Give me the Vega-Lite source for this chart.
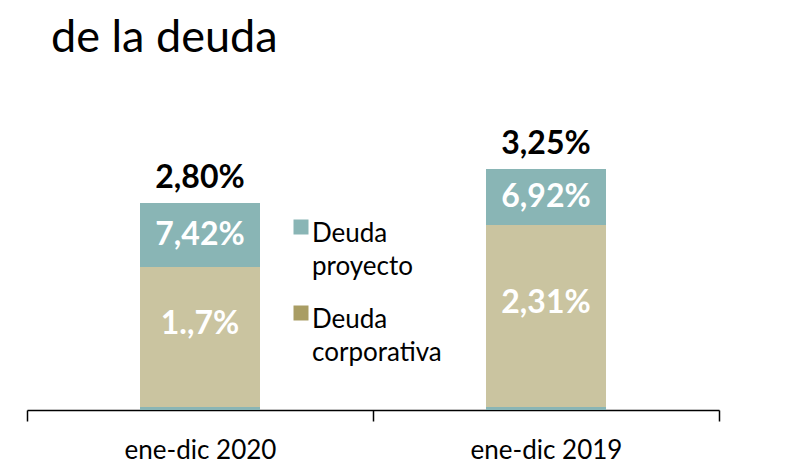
{
  "$schema": "https://vega.github.io/schema/vega-lite/v6.json",
  "width": 692,
  "height": 320,
  "autosize": "none",
  "padding": {"left": 27, "top": 90, "right": 70, "bottom": 56},
  "background": "white",
  "config": {"view": {"stroke": null}, "font": "Lato"},
  "title": {
    "text": "de la deuda",
    "anchor": "start",
    "frame": "group",
    "font": "Lato",
    "fontSize": 45,
    "fontWeight": "normal",
    "color": "#000000",
    "baseline": "alphabetic",
    "offset": 35,
    "dx": 24,
    "dy": 42
  },
  "data": {
    "values": [
      {"period": "ene-dic 2020", "series": "Deuda proyecto", "order": 0, "value": 0.75, "label": "", "total": "2,80%"},
      {"period": "ene-dic 2020", "series": "Deuda corporativa", "order": 1, "value": 35, "label": "1.,7%", "total": "2,80%"},
      {"period": "ene-dic 2020", "series": "Deuda proyecto", "order": 2, "value": 16, "label": "7,42%", "total": "2,80%"},
      {"period": "ene-dic 2019", "series": "Deuda proyecto", "order": 0, "value": 0.75, "label": "", "total": "3,25%"},
      {"period": "ene-dic 2019", "series": "Deuda corporativa", "order": 1, "value": 45.5, "label": "2,31%", "total": "3,25%"},
      {"period": "ene-dic 2019", "series": "Deuda proyecto", "order": 2, "value": 14, "label": "6,92%", "total": "3,25%"}
    ]
  },
  "encoding": {
    "x": {
      "field": "period",
      "type": "nominal",
      "sort": ["ene-dic 2020", "ene-dic 2019"],
      "scale": {"paddingInner": 0, "paddingOuter": 0},
      "axis": {
        "title": null,
        "labelAngle": 0,
        "labelFont": "Lato",
        "labelFontSize": 26,
        "labelColor": "#000000",
        "labelPadding": 16,
        "tickBand": "extent",
        "tickSize": 11,
        "tickWidth": 1.5,
        "tickColor": "#000000",
        "domainColor": "#000000",
        "domainWidth": 1.5,
        "grid": false
      }
    }
  },
  "layer": [
    {
      "mark": {"type": "bar", "width": {"band": 0.3468}},
      "encoding": {
        "y": {"field": "value", "type": "quantitative", "stack": "zero", "scale": {"domain": [0, 80], "nice": false}, "axis": null},
        "order": {"field": "order", "type": "quantitative"},
        "color": {
          "field": "series",
          "type": "nominal",
          "scale": {"domain": ["Deuda proyecto", "Deuda corporativa"], "range": ["#89b5b5", "#cac4a0"]},
          "legend": {
            "title": null,
            "orient": "none",
            "legendX": 261,
            "legendY": 124,
            "direction": "vertical",
            "symbolType": "square",
            "symbolSize": 1,
            "symbolStrokeWidth": 14,
            "labelFont": "Lato",
            "labelFontSize": 26,
            "labelColor": "#000000",
            "labelBaseline": "top",
            "labelOffset": -2,
            "rowPadding": 4,
            "padding": 0,
            "labelLimit": 300,
            "labelExpr": "split(datum.label, ' ')",
            "encode": {
              "labels": {"update": {"lineHeight": {"value": 33}, "dy": {"value": -6}}},
              "symbols": {"update": {"stroke": {"signal": "datum.value === 'Deuda corporativa' ? '#a99d64' : '#89b5b5'"}, "strokeWidth": {"value": 14}, "strokeJoin": {"value": "miter"}, "opacity": {"value": 1}}}
            }
          }
        }
      }
    },
    {
      "mark": {"type": "text", "font": "Lato", "fontSize": 32, "fontWeight": "bold", "color": "white", "baseline": "middle"},
      "encoding": {
        "y": {"field": "value", "type": "quantitative", "stack": "zero", "bandPosition": 0.5},
        "order": {"field": "order", "type": "quantitative"},
        "text": {"condition": {"test": "datum.series === 'Deuda proyecto'", "field": "label"}, "value": ""}
      }
    },
    {
      "mark": {"type": "text", "font": "Lato", "fontSize": 32, "fontWeight": "bold", "color": "white", "baseline": "middle", "dy": -13},
      "encoding": {
        "y": {"field": "value", "type": "quantitative", "stack": "zero", "bandPosition": 0.5},
        "order": {"field": "order", "type": "quantitative"},
        "text": {"condition": {"test": "datum.series === 'Deuda corporativa'", "field": "label"}, "value": ""}
      }
    },
    {
      "mark": {"type": "text", "font": "Lato", "fontSize": 32, "fontWeight": "bold", "color": "#000000", "baseline": "bottom", "dy": -8},
      "encoding": {
        "y": {"aggregate": "sum", "field": "value", "type": "quantitative"},
        "text": {"field": "total", "type": "nominal"}
      }
    }
  ]
}
